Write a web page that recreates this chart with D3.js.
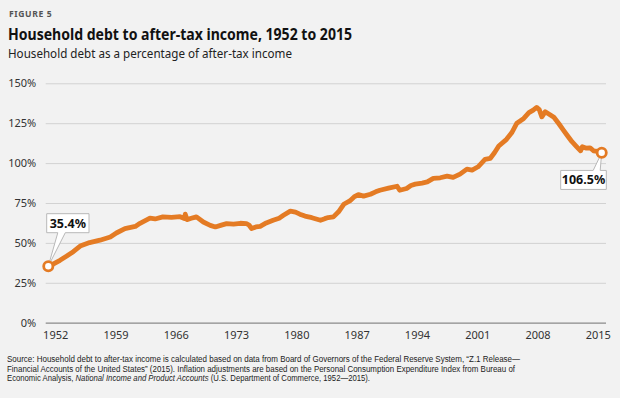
<!DOCTYPE html>
<html>
<head>
<meta charset="utf-8">
<script src="https://cdn.jsdelivr.net/npm/d3@7"></script>
<style>
    body { margin: 0; background: #f2f2f2; }
    svg { display: block; font-family: "Noto Sans", sans-serif; }
</style>
</head>
<body>
<div id="chart"></div>
<script>

// Data ///////////////////////////////////////////////////////////////////////

const years = [
    1951.2, 1951.7, 1952.56, 1953.3, 1954.1, 1954.9, 1956.0, 1957.2, 1958.4, 1959.1,
    1960.1, 1961.3, 1961.85, 1963.0, 1963.6, 1964.5, 1965.5, 1966.5, 1967.0, 1967.1,
    1967.3, 1967.8, 1968.4, 1969.2, 1970.0, 1970.6, 1971.2, 1971.9, 1972.7, 1973.5,
    1974.2, 1974.5, 1974.8, 1975.3, 1975.8, 1976.5, 1977.3, 1978.0, 1978.5, 1979.3,
    1979.9, 1980.4, 1981.0, 1981.8, 1982.8, 1983.3, 1983.7, 1984.3, 1984.9, 1985.5,
    1986.2, 1986.7, 1987.2, 1987.8, 1988.6, 1989.2, 1989.7, 1990.7, 1991.7, 1992.0,
    1992.8, 1993.3, 1993.8, 1994.6, 1995.2, 1995.9, 1996.7, 1997.5, 1998.2, 1999.0,
    1999.8, 2000.4, 2001.1, 2001.9, 2002.5, 2003.0, 2003.5, 2004.4, 2005.0, 2005.6,
    2006.4, 2007.0, 2007.5, 2007.9, 2008.2, 2008.5, 2008.9, 2009.4, 2009.9, 2010.5,
    2011.0, 2011.5, 2012.0, 2012.5, 2013.0, 2013.2, 2013.6, 2014.1, 2014.5, 2015.0,
    2015.45
];

const debtShare = [
    35.4, 36.5, 39.1, 41.6, 44.5, 48.0, 50.2, 51.7, 53.7, 56.2,
    59.0, 60.3, 62.3, 65.5, 65.0, 66.3, 66.0, 66.4, 65.3, 68.0,
    64.6, 65.4, 66.3, 63.1, 61.0, 60.0, 61.0, 62.1, 61.8, 62.3,
    62.1, 61.2, 59.0, 60.0, 60.4, 62.5, 64.2, 65.5, 67.3, 69.9,
    69.3, 68.0, 66.8, 65.8, 64.2, 65.2, 65.9, 66.3, 69.5, 74.2,
    76.3, 78.8, 80.3, 79.3, 80.5, 82.0, 83.0, 84.3, 85.5, 83.0,
    84.1, 86.0, 86.8, 87.5, 88.2, 90.4, 90.8, 91.8, 91.0, 93.1,
    96.2, 95.6, 97.7, 102.3, 102.9, 106.5, 110.7, 114.9, 119.0, 125.0,
    128.0, 131.6, 133.2, 134.9, 133.5, 129.0, 132.2, 130.5, 128.7, 124.5,
    120.7, 117.0, 113.4, 110.5, 107.7, 110.2, 109.4, 109.6, 107.7, 107.3,
    106.5
];

const yTicks = [0, 25, 50, 75, 100, 125, 150];
const xTicks = [1952, 1959, 1966, 1973, 1980, 1987, 1994, 2001, 2008, 2015];

const figureLabel = "FIGURE 5";
const title = "Household debt to after-tax income, 1952 to 2015";
const subtitle = "Household debt as a percentage of after-tax income";
const startLabel = "35.4%";
const endLabel = "106.5%";

// Layout /////////////////////////////////////////////////////////////////////

const width = 620, height = 398;
const plot = { left: 45.7, right: 606, top: 83.3, bottom: 322.7 };
const orange = "#e47b24";

const data = years.map((yr, i) => ({ year: yr, value: debtShare[i] }));

const x = d3.scaleLinear()
    .domain([years[0], years[years.length - 1]])
    .range([48.3, 601.7]);

const y = d3.scaleLinear()
    .domain([0, 150])
    .range([plot.bottom, plot.top]);

const svg = d3.select("#chart")
    .append("svg")
        .attr("width", width)
        .attr("height", height)
        .attr("viewBox", [0, 0, width, height]);

svg.append("rect")
    .attr("width", width)
    .attr("height", height)
    .attr("fill", "#f2f2f2");

// Titles /////////////////////////////////////////////////////////////////////

svg.append("text")
    .attr("x", 9)
    .attr("y", 17)
    .attr("font-size", 8.6)
    .attr("font-weight", 700)
    .attr("letter-spacing", 0.6)
    .attr("fill", "#555")
    .text(figureLabel);

svg.append("text")
    .attr("x", 8)
    .attr("y", 40)
    .attr("font-size", 16.5)
    .attr("font-weight", 700)
    .attr("fill", "#111")
    .attr("textLength", 344)
    .attr("lengthAdjust", "spacingAndGlyphs")
    .text(title);

svg.append("text")
    .attr("x", 8)
    .attr("y", 58)
    .attr("font-size", 12)
    .attr("fill", "#222")
    .attr("textLength", 284)
    .attr("lengthAdjust", "spacingAndGlyphs")
    .text(subtitle);

// Axes ///////////////////////////////////////////////////////////////////////

const yAxis = svg.append("g")
    .attr("transform", `translate(${plot.left},0)`)
    .call(d3.axisLeft(y)
        .tickValues(yTicks)
        .tickSize(-(plot.right - plot.left))
        .tickPadding(9.5)
        .tickFormat(d => d + "%"));

yAxis.select(".domain").remove();
yAxis.selectAll(".tick line")
    .attr("stroke", d => d === 0 ? "#8a8a8a" : "#d2d2d2")
    .attr("stroke-width", d => d === 0 ? 1.3 : 1);
yAxis.selectAll(".tick text")
    .attr("fill", "#333")
    .attr("font-size", 11)
    .attr("font-family", "Noto Sans, sans-serif");

const xAxis = svg.append("g")
    .attr("transform", `translate(0,${plot.bottom})`)
    .call(d3.axisBottom(x)
        .tickValues(xTicks)
        .tickSize(0)
        .tickPadding(9)
        .tickFormat(d3.format("d")));

xAxis.select(".domain").remove();
xAxis.selectAll(".tick text")
    .attr("fill", "#333")
    .attr("font-size", 11)
    .attr("font-family", "Noto Sans, sans-serif");

// Line ///////////////////////////////////////////////////////////////////////

const line = d3.line()
    .x(d => x(d.year))
    .y(d => y(d.value));

svg.append("path")
    .datum(data)
    .attr("fill", "none")
    .attr("stroke", orange)
    .attr("stroke-width", 4.8)
    .attr("stroke-linejoin", "round")
    .attr("stroke-linecap", "round")
    .attr("d", line);

// Callouts ///////////////////////////////////////////////////////////////////

function callout(g, d, box, tail, label) {
    // box: [x0, y0, x1, y1] relative to point; tail: two x offsets on box edge
    const px = x(d.year), py = y(d.value);
    const [bx0, by0, bx1, by1] = [px + box[0], py + box[1], px + box[2], py + box[3]];
    const below = by1 < py;
    const p = d3.path();
    p.moveTo(bx0, by0);
    if (!below) {
        p.lineTo(px + tail[0], by0);
        p.lineTo(px, py);
        p.lineTo(px + tail[1], by0);
    }
    p.lineTo(bx1, by0);
    p.lineTo(bx1, by1);
    if (below) {
        p.lineTo(px + tail[1], by1);
        p.lineTo(px, py);
        p.lineTo(px + tail[0], by1);
    }
    p.lineTo(bx0, by1);
    p.closePath();

    g.append("path")
        .attr("d", p.toString())
        .attr("fill", "#fff")
        .attr("stroke", "#b8b8b8")
        .attr("stroke-width", 1);

    g.append("text")
        .attr("x", (bx0 + bx1) / 2)
        .attr("y", (by0 + by1) / 2 + 4.5)
        .attr("text-anchor", "middle")
        .attr("font-size", 12.5)
        .attr("font-weight", 700)
        .attr("fill", "#111")
        .text(label);

    g.append("circle")
        .attr("cx", px)
        .attr("cy", py)
        .attr("r", 4.6)
        .attr("fill", "#fff")
        .attr("stroke", orange)
        .attr("stroke-width", 2.8);
}

const notes = svg.append("g");
notes.call(callout, data[0], [-1.6, -52.5, 40.7, -33.5], [9.5, 17], startLabel);
notes.call(callout, data[data.length - 1], [-41, 17.7, 4.6, 36.7], [-8.5, -1.5], endLabel);

// Source /////////////////////////////////////////////////////////////////////

const source = svg.append("g")
    .attr("font-family", "Liberation Sans, sans-serif")
    .attr("font-size", 8.4)
    .attr("fill", "#222");

source.append("text")
    .attr("x", 7)
    .attr("y", 362.2)
    .attr("textLength", 513)
    .attr("lengthAdjust", "spacingAndGlyphs")
    .text("Source: Household debt to after-tax income is calculated based on data from Board of Governors of the Federal Reserve System, \u201CZ.1 Release\u2014");

source.append("text")
    .attr("x", 7)
    .attr("y", 371.6)
    .attr("textLength", 508)
    .attr("lengthAdjust", "spacingAndGlyphs")
    .text("Financial Accounts of the United States\u201D (2015). Inflation adjustments are based on the Personal Consumption Expenditure Index from Bureau of");

const last = source.append("text")
    .attr("x", 7)
    .attr("y", 381.0)
    .attr("textLength", 363)
    .attr("lengthAdjust", "spacingAndGlyphs");
last.append("tspan").text("Economic Analysis, ");
last.append("tspan").attr("font-style", "italic").text("National Income and Product Accounts");
last.append("tspan").text(" (U.S. Department of Commerce, 1952\u20142015).");

</script>
</body>
</html>
